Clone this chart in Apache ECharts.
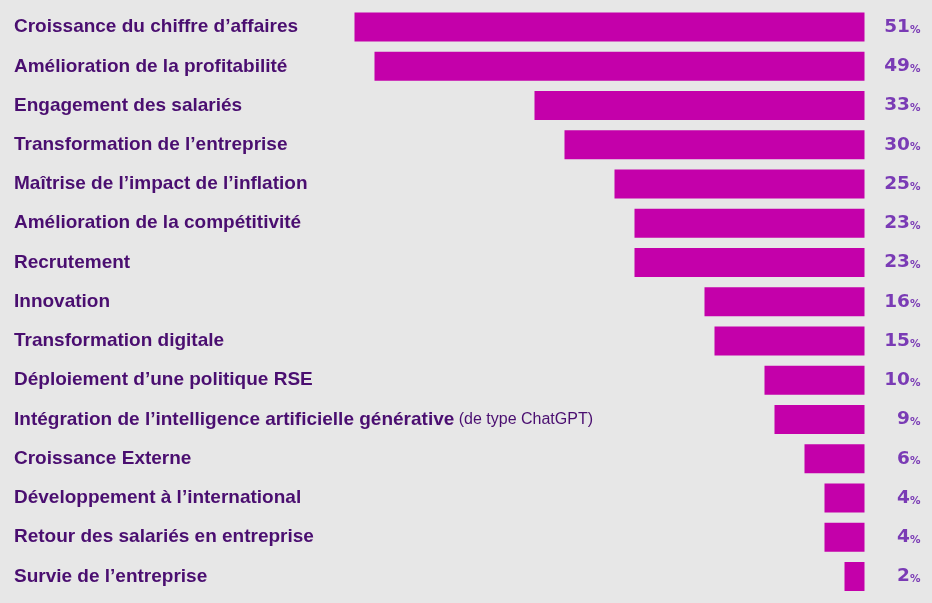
<!DOCTYPE html>
<html><head><meta charset="utf-8">
<script src="https://cdn.jsdelivr.net/npm/echarts@6/dist/echarts.min.js"></script>
<style>html,body{margin:0;padding:0;background:#e7e7e7;}#c{width:932px;height:603px;}</style>
</head><body><div id="c"></div>
<script>
const categories = [
  "Croissance du chiffre d’affaires",
  "Amélioration de la profitabilité",
  "Engagement des salariés",
  "Transformation de l’entreprise",
  "Maîtrise de l’impact de l’inflation",
  "Amélioration de la compétitivité",
  "Recrutement",
  "Innovation",
  "Transformation digitale",
  "Déploiement d’une politique RSE",
  "Intégration de l’intelligence artificielle générative",
  "Croissance Externe",
  "Développement à l’international",
  "Retour des salariés en entreprise",
  "Survie de l’entreprise"
];
const notes = ["","","","","","","","","",""," (de type ChatGPT)","","","",""];
const values = [51, 49, 33, 30, 25, 23, 23, 16, 15, 10, 9, 6, 4, 4, 2];

const chart = echarts.init(document.getElementById('c'));
chart.setOption({
  backgroundColor: '#e7e7e7',
  animation: false,
  grid: { left: 264.5, right: 67.5, top: 7.4, bottom: 6.9 },
  xAxis: { type: 'value', inverse: true, min: 0, max: 60, show: false },
  yAxis: [
    {
      type: 'category', data: categories, inverse: true, position: 'left',
      axisLine: { show: false }, axisTick: { show: false },
      axisLabel: {
        align: 'left', margin: 250.5,
        formatter: (v, i) => '{b|' + v + '}' + (notes[i] ? '{n|' + notes[i] + '}' : ''),
        rich: {
          b: { fontFamily: 'Liberation Sans, Arial, sans-serif', fontWeight: 'bold', fontSize: 19, color: '#4a0e70' },
          n: { fontFamily: 'Liberation Sans, Arial, sans-serif', fontSize: 16, color: '#4a0e70' }
        }
      }
    },
    {
      type: 'category', data: categories, inverse: true, position: 'right',
      axisLine: { show: false }, axisTick: { show: false },
      axisLabel: {
        align: 'right', margin: 56,
        formatter: (v, i) => '{v|' + values[i] + '}{p|%}',
        rich: {
          v: { fontFamily: 'DejaVu Sans, sans-serif', fontWeight: 'bold', fontSize: 18.5, color: '#7a3bb5', verticalAlign: 'bottom' },
          p: { fontFamily: 'DejaVu Sans, sans-serif', fontWeight: 'bold', fontSize: 10.5, color: '#7a3bb5', verticalAlign: 'bottom', padding: [0,0,1,0] }
        }
      }
    }
  ],
  series: [{
    type: 'bar', data: values, barWidth: 29, yAxisIndex: 0,
    itemStyle: { color: '#c400aa' }
  }]
});
</script>
</body></html>
